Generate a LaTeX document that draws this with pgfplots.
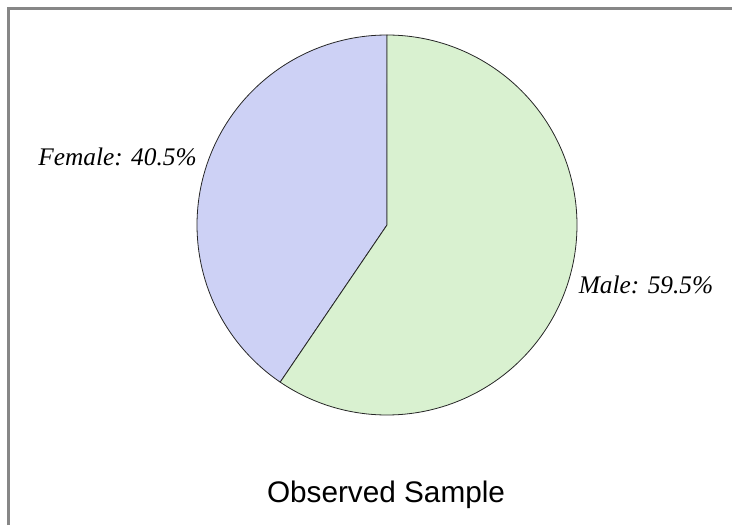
\documentclass[border=0pt]{standalone}
\usepackage{pgfplots}
\usepackage{pgfplotstable}
\pgfplotsset{compat=1.18}
\usepackage{fontspec}
\setmainfont{Liberation Serif}
\newfontfamily\arial{Liberation Sans}
\definecolor{femalec}{RGB}{205,209,245}
\definecolor{malec}{RGB}{217,241,208}
\definecolor{framec}{RGB}{135,135,135}
\pgfplotstableread{
label   value
Female  40.5
Male    59.5
}\piedata
\pgfplotstablegetelem{0}{value}\of\piedata
\let\femaleval\pgfplotsretval
\pgfplotstablegetelem{1}{value}\of\piedata
\let\maleval\pgfplotsretval
\pgfmathsetmacro{\split}{90+3.6*\femaleval}
\begin{document}
\begin{tikzpicture}
\useasboundingbox (0,0) rectangle (549pt,393.75pt);
\begin{axis}[
  at={(0,0)}, anchor=south west,
  scale only axis, width=549pt, height=393.75pt,
  xmin=0, xmax=732, ymin=0, ymax=525,
  hide axis, clip=false,
]
\addplot[fill=femalec, draw=black!85, line width=0.6pt, domain=90:\split, samples=120, variable=\t]
  ({387+190*cos(t)},{300+190*sin(t)}) -- (axis cs:387,300) -- cycle;
\addplot[fill=malec, draw=black!85, line width=0.6pt, domain=\split:450, samples=200, variable=\t]
  ({387+190*cos(t)},{300+190*sin(t)}) -- (axis cs:387,300) -- cycle;
\node[anchor=base, font=\fontsize{19}{22}\selectfont\itshape] at (axis cs:117.5,359) {Female: \femaleval\%};
\node[anchor=base, font=\fontsize{19}{22}\selectfont\itshape] at (axis cs:646,231) {Male: \maleval\%};
\node[anchor=base, font=\arial\fontsize{22.3}{25}\selectfont] at (axis cs:386,22) {Observed Sample};
\draw[framec, line width=1.6pt] (axis cs:8.5,0) -- (axis cs:8.5,516.5) -- (axis cs:732,516.5);
\end{axis}
\end{tikzpicture}
\end{document}
